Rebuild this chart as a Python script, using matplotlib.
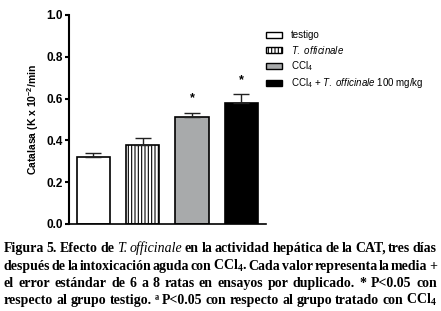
import matplotlib
matplotlib.use("Agg")
import matplotlib.pyplot as plt
from matplotlib.patches import Patch

plt.rcParams['font.family'] = ['Liberation Sans', 'DejaVu Sans']
plt.rcParams['mathtext.fontset'] = 'custom'
plt.rcParams['mathtext.rm'] = 'Liberation Sans'
plt.rcParams['mathtext.it'] = 'Liberation Sans:italic'
plt.rcParams['hatch.linewidth'] = 0.8

# datos
grupos = ['testigo', '$\\it{T.\\ officinale}$', 'CCl$_4$',
          'CCl$_4$ + $\\it{T.\\ officinale}$ 100 mg/kg']
medias = [0.32, 0.38, 0.51, 0.58]
errores = [0.02, 0.03, 0.02, 0.04]
signif = ['', '', '*', '*']
yticks = [0.0, 0.2, 0.4, 0.6, 0.8, 1.0]

colores = ['white', 'white', '#a8aaab', 'black']
tramas = [None, '|||||', None, None]

fig = plt.figure(figsize=(4.41, 3.11), dpi=100)
ax = fig.add_axes([0.156, 0.280, 0.447, 0.672])

x = range(len(medias))
bars = ax.bar(x, medias, width=0.67, color=colores, edgecolor='black', linewidth=1.2)
for b, h in zip(bars, tramas):
    if h:
        b.set_hatch(h)
ax.errorbar(x, medias, yerr=[[0] * len(errores), errores], fmt='none',
            ecolor='#222222', elinewidth=1.0, capsize=6, capthick=1.0, zorder=1)
for i, s in enumerate(signif):
    if s:
        ax.text(i, medias[i] + errores[i] + 0.07, s, ha='center', va='center',
                fontsize=9, fontweight='bold')

ax.set_xlim(-0.5, 3.5)
ax.set_ylim(0, 1.0)
ax.set_yticks(yticks)
ax.set_yticklabels(['%.1f' % v for v in yticks], fontsize=8.5, fontweight='bold')
ax.set_xticks([])
for s in ['top', 'right']:
    ax.spines[s].set_visible(False)
ax.spines['left'].set_linewidth(1.5)
ax.spines['bottom'].set_linewidth(1.2)
ax.tick_params(axis='y', direction='out', length=3, width=1.5, pad=1)
ax.set_ylabel('Catalasa (K x 10$\\mathregular{^{-2}}$/min', fontsize=7.5,
              fontweight='bold', labelpad=4)

handles = [Patch(facecolor=c, edgecolor='black', hatch=h, linewidth=1.0)
           for c, h in zip(colores, tramas)]
fig.legend(handles, grupos, loc='upper left', bbox_to_anchor=(0.595, 0.915),
           frameon=False, fontsize=7, handlelength=1.6, handleheight=0.6,
           labelspacing=0.35, handletextpad=0.9, borderaxespad=0)

# texto de la figura, justificado palabra por palabra
pie = [
    [('Figura', 'b'), ('5.', 'b'), ('Efecto', 'b'), ('de', 'b'), ('T.', 'i'),
     ('officinale', 'i'), ('en', 'b'), ('la', 'b'), ('actividad', 'b'),
     ('hepática', 'b'), ('de', 'b'), ('la', 'b'), ('CAT,', 'b'), ('tres', 'b'),
     ('días', 'b')],
    [('después', 'b'), ('de', 'b'), ('la', 'b'), ('intoxicación', 'b'),
     ('aguda', 'b'), ('con', 'b'), ('CCl$\\mathregular{_4}$.', 'b'), ('Cada', 'b'),
     ('valor', 'b'), ('representa', 'b'), ('la', 'b'), ('media', 'b'), ('+', 'b')],
    [('el', 'b'), ('error', 'b'), ('estándar', 'b'), ('de', 'b'), ('6', 'b'),
     ('a', 'b'), ('8', 'b'), ('ratas', 'b'), ('en', 'b'), ('ensayos', 'b'),
     ('por', 'b'), ('duplicado.', 'b'), ('*', 'b'), ('P<0.05', 'b'), ('con', 'b')],
    [('respecto', 'b'), ('al', 'b'), ('grupo', 'b'), ('testigo.', 'b'),
     ('ª', 'b'), ('P<0.05', 'b'), ('con', 'b'), ('respecto', 'b'), ('al', 'b'),
     ('grupo', 'b'), ('tratado', 'b'), ('con', 'b'), ('CCl$\\mathregular{_4}$', 'b')],
]
lineas_y = [252, 270, 287, 304]

renderer = fig.canvas.get_renderer()
x0, x1 = 4, 437
for fila, ypix in zip(pie, lineas_y):
    textos = []
    for palabra, estilo in fila:
        t = fig.text(0, 1 - ypix / 311, palabra, fontsize=10,
                     family=['Liberation Serif', 'DejaVu Serif'],
                     fontweight='bold' if estilo == 'b' else 'normal',
                     style='italic' if estilo == 'i' else 'normal',
                     va='baseline', ha='left')
        textos.append(t)
    anchos = [t.get_window_extent(renderer).width for t in textos]
    hueco = (x1 - x0 - sum(anchos)) / (len(textos) - 1)
    pos = x0
    for t, w in zip(textos, anchos):
        t.set_x(pos / 441)
        pos += w + hueco

fig.savefig('out.png', dpi=100)
